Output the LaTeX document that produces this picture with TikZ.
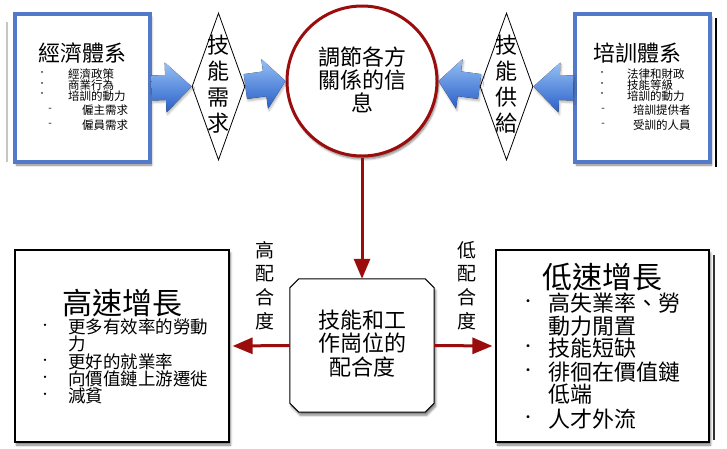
\documentclass[tikz,border=0pt]{standalone}
\usepackage{fontspec}
\setmainfont{Noto Sans CJK TC}
\usetikzlibrary{shapes.geometric,arrows.meta,calc,shadows.blur}
\definecolor{boxblue}{RGB}{82,122,200}
\definecolor{darkred}{RGB}{155,12,12}
\definecolor{arrowlight}{RGB}{150,192,245}
\definecolor{arrowdark}{RGB}{40,95,200}
\newcommand\blockarrow[3]{%
  \coordinate (H) at ($(#2)!#3!(#1)$);
  \fill[top color=arrowlight,bottom color=arrowdark,blur shadow={shadow xshift=1pt,shadow yshift=-2pt,shadow opacity=30}]
    ($(#1)!12.5pt!90:(#2)$) -- ($(H)!12.5pt!90:(#2)$) -- ($(H)!25pt!90:(#2)$) -- (#2)
    -- ($(H)!25pt!-90:(#2)$) -- ($(H)!12.5pt!-90:(#2)$) -- ($(#1)!12.5pt!-90:(#2)$) -- cycle;}
\tikzset{
  shd/.style={blur shadow={shadow xshift=1.5pt,shadow yshift=-3pt,shadow blur steps=6,shadow opacity=50}},
  bluebox/.style={draw=boxblue,line width=3.5pt,fill=white,minimum width=135pt,minimum height=148pt,inner sep=0,shd},
  blackbox/.style={draw=black,line width=1.2pt,fill=white,minimum width=213pt,minimum height=192pt,inner sep=0,shd},
  dia/.style={diamond,draw=black,line width=0.8pt,fill=white,minimum width=53pt,minimum height=147pt,inner sep=0,aspect=0.36},
  vtext/.style={align=center,inner sep=0,font=\fontsize{22}{26}\selectfont},
  ttl/.style={inner sep=0,font=\fontsize{22}{24}\selectfont},
  small/.style={inner sep=0,anchor=west,font=\fontsize{11.5}{12}\selectfont},
  dotmark/.style={inner sep=0,font=\fontsize{8}{8}\selectfont},
  dashmark/.style={inner sep=0,font=\fontsize{10}{10}\selectfont},
  middot/.style={inner sep=0,font=\fontsize{11}{11}\selectfont},
  mid/.style={inner sep=0,anchor=west,font=\fontsize{17.5}{18}\selectfont},
  big/.style={inner sep=0,anchor=west,font=\fontsize{22}{23}\selectfont},
  bigdot/.style={inner sep=0,font=\fontsize{14}{14}\selectfont},
  bigttl/.style={inner sep=0,font=\fontsize{30}{32}\selectfont},
  lab/.style={align=center,inner sep=0,font=\fontsize{19}{23.7}\selectfont},
  redarrow/.style={draw=darkred,line width=3pt,-{Triangle[length=20pt,width=16pt]}},
}
\begin{document}
\begin{tikzpicture}[x=1pt,y=-1pt]
\useasboundingbox (0,0) rectangle (727,448);
% stray edge lines
\draw[gray!45,line width=1.2pt] (7,22) -- (7,162);
\draw[black,line width=1.5pt] (716,18) -- (716,167);
\draw[black!80,line width=1.2pt] (714,255) -- (714,440);
% top boxes
\node[bluebox] (eco) at (82.5,88) {};
\node[bluebox] (train) at (642.5,88) {};
\node[dia] (d1) at (218.5,86.5) {};
\node[dia] (d2) at (506.5,86.5) {};
\node[circle,draw=darkred,line width=3pt,fill=white,minimum size=150pt,inner sep=0,shd] (circ) at (362,81) {};
% block arrows
\blockarrow{eco.east}{d1.west}{26pt}
\blockarrow{d1.east}{circ.west}{21pt}
\blockarrow{d2.west}{circ.east}{21pt}
\blockarrow{train.west}{d2.east}{26pt}
% texts in top
\node[vtext] (d1t) at (218.5,84) {技\\能\\需\\求};
\node[vtext] (d2t) at (506.5,84) {技\\能\\供\\給};
\node[align=center,inner sep=0,font=\fontsize{22}{23}\selectfont] (circt) at (362,80) {調節各方\\關係的信\\息};
\node[ttl] (ecot) at (82.5,53) {經濟體系};
\node[dotmark] (eb1) at (42,74) {·};
\node[dotmark] (eb2) at (42,85) {·};
\node[dotmark] (eb3) at (42,95) {·};
\node[dashmark] (eb4) at (50,110) {-};
\node[dashmark] (eb5) at (50,125) {-};
\node[small] (e1) at (68,74) {經濟政策};
\node[small] (e2) at (68,85) {商業行為};
\node[small] (e3) at (68,96) {培訓的動力};
\node[small] (e4) at (82,110) {僱主需求};
\node[small] (e5) at (82,125) {僱員需求};
\node[ttl] (traint) at (637,53) {培訓體系};
\node[dotmark] (tb1) at (602,74) {·};
\node[dotmark] (tb2) at (602,85) {·};
\node[dotmark] (tb3) at (602,95) {·};
\node[dashmark] (tb4) at (603,110) {-};
\node[dashmark] (tb5) at (603,125) {-};
\node[small] (t1) at (627,74) {法律和財政};
\node[small] (t2) at (627,85) {技能等級};
\node[small] (t3) at (627,96) {培訓的動力};
\node[small] (t4) at (633,110) {培訓提供者};
\node[small] (t5) at (633,125) {受訓的人員};
% bottom
\node[minimum width=144pt,minimum height=133pt,inner sep=0] (cbox) at (362,345.5) {};
\draw[line width=1pt,fill=white,shd]
  ($(cbox.north west)+(9,0)$) -- ($(cbox.north east)+(-9,0)$) -- ($(cbox.north east)+(0,9)$)
  -- ($(cbox.south east)+(0,-9)$) -- ($(cbox.south east)+(-9,0)$) -- ($(cbox.south west)+(9,0)$)
  -- ($(cbox.south west)+(0,-9)$) -- ($(cbox.north west)+(0,9)$) -- cycle;
\node[align=center,inner sep=0,font=\fontsize{22}{23.5}\selectfont] (cboxt) at (362,343.5) {技能和工\\作崗位的\\配合度};
\node[blackbox,minimum width=214pt] (hbox) at (122,346) {};
\node[blackbox] (lbox) at (602.5,346) {};
\draw[redarrow] (circ.south) -- (cbox.north);
\draw[redarrow,shorten >=3pt] (cbox.west) -- (hbox.east);
\draw[redarrow,shorten >=3pt] (cbox.east) -- (lbox.west);
\node[lab] (hlab) at (265,285.5) {高\\配\\合\\度};
\node[lab] (llab) at (467,285.5) {低\\配\\合\\度};
% high growth box text
\node[bigttl] (hboxt) at (122,303) {高速增長};
\node[middot] (hb1) at (45,327) {·};
\node[middot] (hb2) at (45,362) {·};
\node[middot] (hb3) at (45,379) {·};
\node[middot] (hb4) at (45,396) {·};
\node[mid] (h1) at (68,327) {更多有效率的勞動};
\node[mid] (h1b) at (68,344) {力};
\node[mid] (h2) at (68,362) {更好的就業率};
\node[mid] (h3) at (68,379) {向價值鏈上游遷徙};
\node[mid] (h4) at (68,396) {減貧};
% low growth box text
\node[bigttl] (lboxt) at (602,277) {低速增長};
\node[bigdot] (lb1) at (528,303) {·};
\node[bigdot] (lb2) at (528,348) {·};
\node[bigdot] (lb3) at (528,372) {·};
\node[bigdot] (lb4) at (528,419) {·};
\node[big] (l1) at (548,303) {高失業率、勞};
\node[big] (l1b) at (548,326) {動力閒置};
\node[big] (l2) at (548,348) {技能短缺};
\node[big] (l3) at (548,372) {徘徊在價值鏈};
\node[big] (l3b) at (548,394) {低端};
\node[big] (l4) at (548,419) {人才外流};
\end{tikzpicture}
\end{document}
